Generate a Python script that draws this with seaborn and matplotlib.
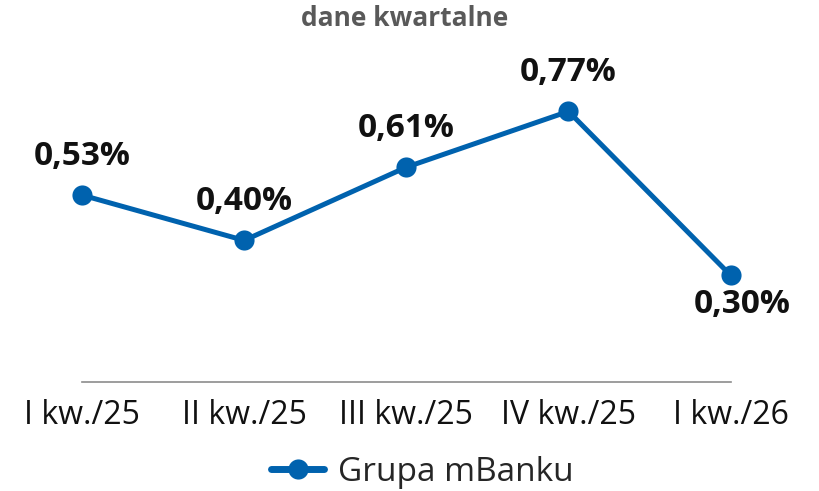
import pandas as pd
import seaborn as sns
import matplotlib.pyplot as plt

# data
kwartaly = ['I kw./25', 'II kw./25', 'III kw./25', 'IV kw./25', 'I kw./26']
wartosci = [0.53, 0.40, 0.61, 0.77, 0.30]
etykiety = ['0,53%', '0,40%', '0,61%', '0,77%', '0,30%']
seria = 'Grupa mBanku'

df = pd.DataFrame({'kw': range(len(kwartaly)), 'val': wartosci, 'seria': seria})

sns.set_style('white')
plt.rcParams['font.family'] = ['Open Sans', 'DejaVu Sans']

blue = '#0062AE'
fig = plt.figure(figsize=(8.2, 4.91), dpi=100)
ax = fig.add_axes([0.1, 0.222, 0.791, 0.696])

sns.lineplot(data=df, x='kw', y='val', hue='seria', palette=[blue], marker='o',
             markersize=14.5, linewidth=3.6, markeredgewidth=0, ax=ax, clip_on=False)

# data labels
for i, (v, t) in enumerate(zip(wartosci, etykiety)):
    if i == len(wartosci) - 1:
        off = (8, -21)
    else:
        off = (0, 28)
    ax.annotate(t, (i, v), xytext=off, textcoords='offset points',
                ha='center', va='center', fontsize=24, fontweight='bold',
                color='#111111')

ax.set_ylim(-0.006, 0.974)
ax.set_xlim(0, 4.0)
ax.set_yticks([])
ax.set_xticks(range(len(kwartaly)))
ax.set_xticklabels(kwartaly, fontsize=23, color='#111111')
ax.tick_params(axis='x', length=0, pad=12)
ax.set_xlabel('')
ax.set_ylabel('')
for s in ['top', 'right', 'left']:
    ax.spines[s].set_visible(False)
ax.spines['bottom'].set_color('#8c8c8c')
ax.spines['bottom'].set_linewidth(1.2)

fig.text(0.494, 0.962, 'dane kwartalne', ha='center', va='center', fontsize=19,
         fontweight='bold', color='#595959')

leg = ax.legend(loc='center', bbox_to_anchor=(0.515, 0.038), bbox_transform=fig.transFigure,
                frameon=False, fontsize=24, handlelength=1.6, handletextpad=0.4)
for line in leg.get_lines():
    line.set_linewidth(5)

plt.savefig('out.png', dpi=100)
